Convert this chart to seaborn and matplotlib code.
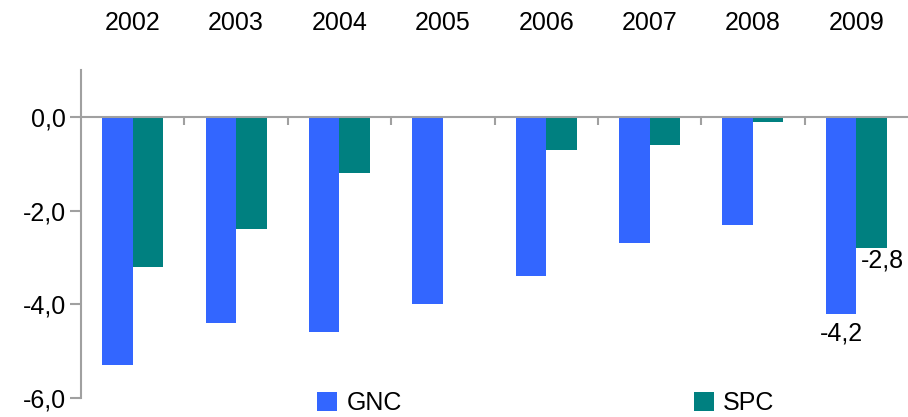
import matplotlib
matplotlib.use("Agg")
import matplotlib.pyplot as plt
import seaborn as sns
import pandas as pd
from matplotlib.ticker import FixedLocator, FuncFormatter

years = ["2002", "2003", "2004", "2005", "2006", "2007", "2008", "2009"]
gnc = [-5.3, -4.4, -4.6, -4.0, -3.4, -2.7, -2.3, -4.2]
spc = [-3.2, -2.4, -1.2, 0.0, -0.7, -0.6, -0.1, -2.8]
series = ["GNC", "SPC"]
colors = ["#3366FF", "#008080"]
yticks = [0.0, -2.0, -4.0, -6.0]

df = pd.DataFrame({
    "year": years * 2,
    "value": gnc + spc,
    "series": ["GNC"] * len(years) + ["SPC"] * len(years),
})

sns.set_style("white")
plt.rcParams["font.family"] = ["Liberation Sans", "DejaVu Sans"]
plt.rcParams["text.color"] = "black"
plt.rcParams["xtick.labelcolor"] = "black"
plt.rcParams["ytick.labelcolor"] = "black"

fig = plt.figure(figsize=(9.08, 4.17), dpi=100)
ax = fig.add_axes([81 / 908, 1 - 398 / 417, 1 - 81 / 908, (398 - 70) / 417])

sns.barplot(data=df, x="year", y="value", hue="series", order=years,
            hue_order=series, palette=colors, width=0.59, gap=0,
            saturation=1, ax=ax, legend=True, linewidth=0, edgecolor="none")

ax.set_ylim(-6, 1)
ax.set_xlim(-0.5, len(years) - 0.5)
ax.set_xlabel("")
ax.set_ylabel("")

gray = "#A0A0A0"
for s in ["top", "right"]:
    ax.spines[s].set_visible(False)
ax.spines["left"].set_color(gray)
ax.spines["left"].set_linewidth(1.5)
ax.spines["bottom"].set_color(gray)
ax.spines["bottom"].set_linewidth(1.5)
ax.spines["bottom"].set_position(("data", 0))

ax.set_yticks(yticks)
ax.yaxis.set_major_formatter(FuncFormatter(lambda v, p: f"{v:.1f}".replace(".", ",")))
ax.tick_params(axis="y", direction="out", length=8, width=1.5, color=gray,
               labelsize=18, pad=3, left=True, labelcolor="black")

ax.xaxis.set_minor_locator(FixedLocator([i + 0.5 for i in range(len(years) - 1)]))
ax.tick_params(axis="x", which="major", bottom=False, top=False,
               labelbottom=False, labeltop=True, labelsize=18, pad=22,
               labelcolor="black")
ax.tick_params(axis="x", which="minor", bottom=True, top=False,
               direction="out", length=6, width=1.5, color=gray)

# data labels for 2009
n = len(years) - 1
ax.annotate(f"{gnc[n]:.1f}".replace(".", ","), xy=(n - 0.1475, gnc[n]),
            xytext=(0, -6), textcoords="offset points", ha="center", va="top",
            fontsize=18, color="black")
ax.annotate(f"{spc[n]:.1f}".replace(".", ","), xy=(n + 0.1475, spc[n]),
            xytext=(8, 0), textcoords="offset points", ha="center", va="top",
            fontsize=18, color="black")

leg = ax.get_legend()
if leg is not None:
    leg.remove()
handles, labels = ax.get_legend_handles_labels()
fig.legend(handles, labels, loc="center", bbox_to_anchor=(546 / 908, 1 - 403 / 417),
           ncol=2, frameon=False, fontsize=18, handlelength=0.8, handleheight=0.8,
           handletextpad=0.36, columnspacing=11.7, borderpad=0, labelcolor="black")

fig.savefig("out.png", dpi=100)
